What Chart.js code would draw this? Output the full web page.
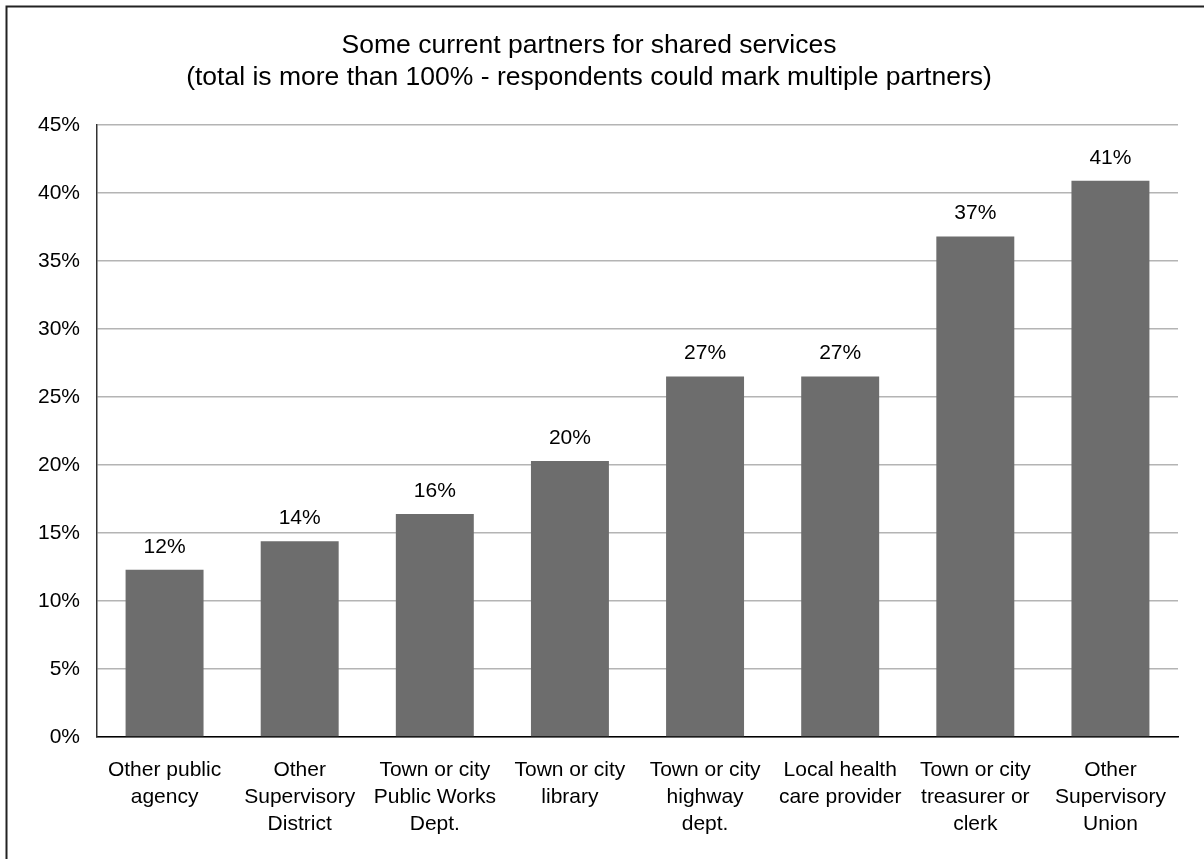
<!DOCTYPE html>
<html>
<head>
<meta charset="utf-8">
<title>Shared services partners</title>
<script src="https://cdn.jsdelivr.net/npm/chart.js@4.4.1/dist/chart.umd.min.js"></script>
<style>
  html, body { margin: 0; padding: 0; background: #fff; }
  #wrap { width: 1204px; height: 859px; }
</style>
</head>
<body>
<div id="wrap"><canvas id="partnersChart" width="1204" height="859"></canvas></div>
<script>
// categories (one entry per bar, split into lines as shown under the axis)
const partners = [
  ['Other public', 'agency'],
  ['Other', 'Supervisory', 'District'],
  ['Town or city', 'Public Works', 'Dept.'],
  ['Town or city', 'library'],
  ['Town or city', 'highway', 'dept.'],
  ['Local health', 'care provider'],
  ['Town or city', 'treasurer or', 'clerk'],
  ['Other', 'Supervisory', 'Union']
]
// share of respondents naming each partner, in percent
const shares = [12.3, 14.4, 16.4, 20.3, 26.5, 26.5, 36.8, 40.9]
const yTicks = [0, 5, 10, 15, 20, 25, 30, 35, 40, 45]

const titleLines = [
  'Some current partners for shared services',
  '(total is more than 100% - respondents could mark multiple partners)'
]

const FONT = '"Liberation Sans", Arial, Helvetica, sans-serif'

// white background + frame on the top and left edges
const frame = {
  id: 'frame',
  beforeDraw(chart) {
    const { ctx, width, height } = chart
    ctx.save()
    ctx.fillStyle = '#fff'
    ctx.fillRect(0, 0, width, height)
    ctx.restore()
  },
  afterDraw(chart) {
    const { ctx, width, height } = chart
    ctx.save()
    ctx.strokeStyle = '#222'
    ctx.lineWidth = 2
    ctx.beginPath()
    ctx.moveTo(6.5, height)
    ctx.lineTo(6.5, 6.5)
    ctx.lineTo(width, 6.5)
    ctx.stroke()
    ctx.restore()
  }
}

// rounded value written above every bar
const valueLabels = {
  id: 'valueLabels',
  afterDatasetsDraw(chart) {
    const { ctx } = chart
    const meta = chart.getDatasetMeta(0)
    ctx.save()
    ctx.font = '21px ' + FONT
    ctx.fillStyle = '#000'
    ctx.textAlign = 'center'
    ctx.textBaseline = 'middle'
    meta.data.forEach((bar, i) => {
      const v = chart.data.datasets[0].data[i]
      ctx.fillText(Math.round(v) + '%', bar.x, bar.y - 23)
    })
    ctx.restore()
  }
}

const ctx = document.getElementById('partnersChart')

new Chart(ctx, {
  type: 'bar',
  plugins: [frame, valueLabels],
  data: {
    labels: partners,
    datasets: [{
      data: shares,
      backgroundColor: '#6d6d6d',
      borderWidth: 0,
      barPercentage: 1,
      categoryPercentage: 0.577
    }]
  },
  options: {
    responsive: false,
    animation: false,
    layout: { padding: { left: 0, right: 26, top: 0, bottom: 0 } },
    plugins: {
      legend: { display: false },
      tooltip: { enabled: false },
      title: {
        display: true,
        text: titleLines,
        color: '#000',
        font: { family: FONT, size: 26.5, weight: 'normal', lineHeight: 32 / 26.5 },
        padding: { top: 30, bottom: 31 }
      }
    },
    scales: {
      x: {
        grid: { display: false, drawTicks: false },
        border: { display: true, color: '#000', width: 1.5 },
        ticks: {
          color: '#000',
          padding: 20,
          maxRotation: 0,
          autoSkip: false,
          font: { family: FONT, size: 21, lineHeight: 26.7 / 21 }
        },
        afterFit(scale) { scale.height = 122 }
      },
      y: {
        min: 0,
        max: 45,
        afterBuildTicks(scale) {
          scale.ticks = yTicks.map(v => ({ value: v }))
        },
        grid: { color: '#b4b4b4', lineWidth: 1.5, drawTicks: false },
        border: { display: true, color: '#333', width: 1.5 },
        ticks: {
          color: '#000',
          padding: 17,
          font: { family: FONT, size: 21 },
          callback: v => v + '%'
        },
        afterFit(scale) { scale.width = 97 }
      }
    }
  }
})
</script>
</body>
</html>
